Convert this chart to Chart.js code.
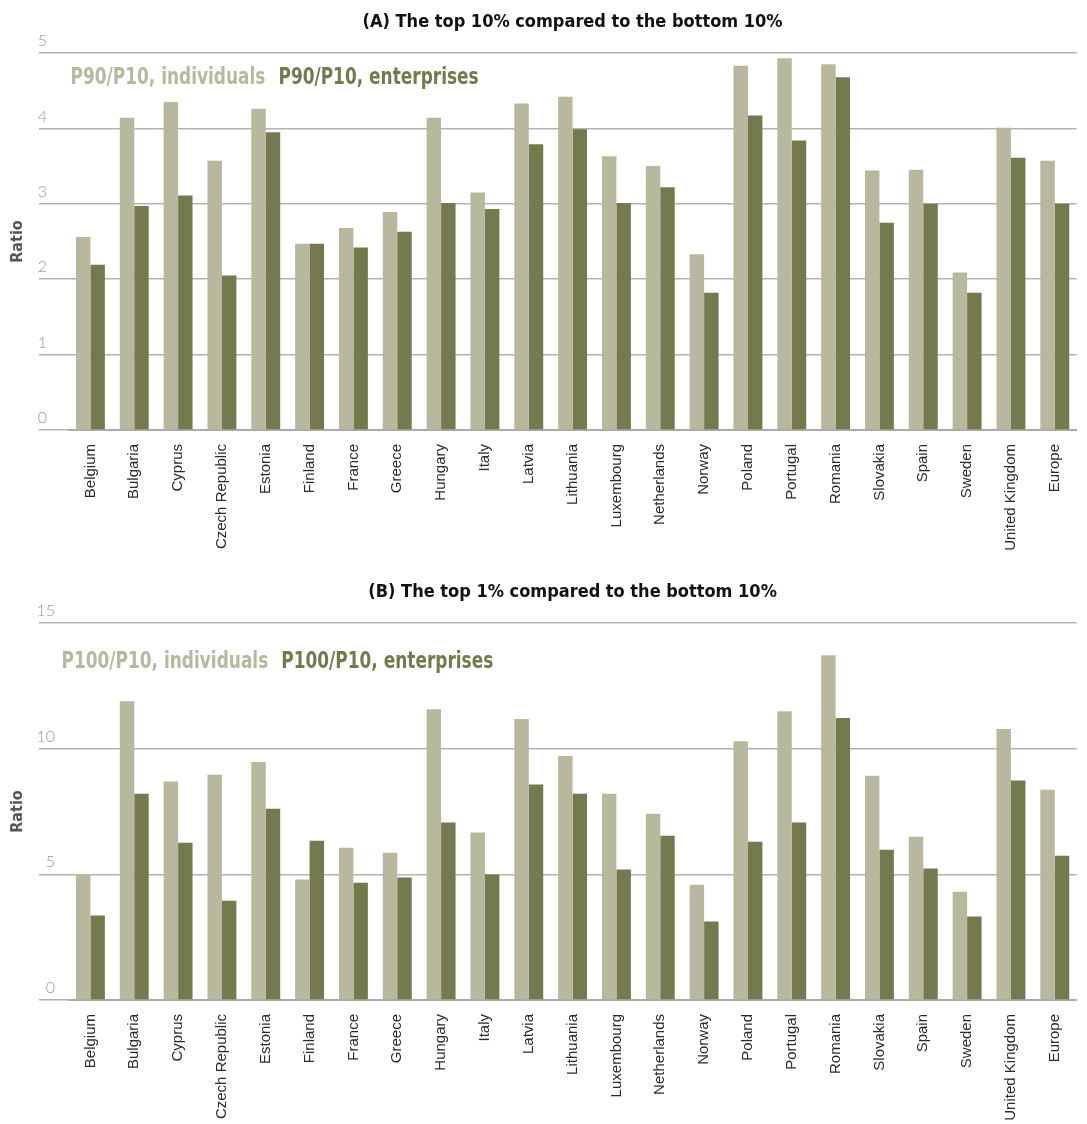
<!DOCTYPE html>
<html>
<head>
<meta charset="utf-8">
<script src="https://cdn.jsdelivr.net/npm/chart.js@4.4.1/dist/chart.umd.min.js"></script>
<style>
  body { margin: 0; background: #fff; overflow: hidden; }
  .wrap { position: absolute; left: 0; width: 1087px; overflow: hidden; }
  #wrapA { top: 0; height: 570px; }
  #wrapB { top: 570px; height: 554px; }
</style>
</head>
<body>
<div class="wrap" id="wrapA"><canvas id="chartA" width="1087" height="570"></canvas></div>
<div class="wrap" id="wrapB"><canvas id="chartB" width="1087" height="570"></canvas></div>
<script>
// data
const countries = ["Belgium", "Bulgaria", "Cyprus", "Czech Republic", "Estonia", "Finland", "France", "Greece", "Hungary", "Italy", "Latvia", "Lithuania", "Luxembourg", "Netherlands", "Norway", "Poland", "Portugal", "Romania", "Slovakia", "Spain", "Sweden", "United Kingdom", "Europe"];

const p90Individuals = [2.56, 4.14, 4.35, 3.57, 4.26, 2.47, 2.68, 2.89, 4.14, 3.15, 4.33, 4.42, 3.63, 3.5, 2.33, 4.83, 4.93, 4.85, 3.44, 3.45, 2.09, 4.01, 3.57];
const p90Enterprises = [2.19, 2.97, 3.11, 2.05, 3.95, 2.47, 2.42, 2.63, 3.01, 2.93, 3.79, 3.99, 3.01, 3.22, 1.82, 4.17, 3.84, 4.68, 2.75, 3.0, 1.82, 3.61, 3.0];

const p100Individuals = [5.0, 11.89, 8.69, 8.96, 9.47, 4.79, 6.06, 5.86, 11.57, 6.66, 11.18, 9.71, 8.21, 7.41, 4.59, 10.3, 11.49, 13.72, 8.92, 6.5, 4.31, 10.78, 8.37];
const p100Enterprises = [3.36, 8.21, 6.26, 3.95, 7.61, 6.34, 4.67, 4.87, 7.06, 4.99, 8.57, 8.21, 5.19, 6.54, 3.12, 6.3, 7.06, 11.22, 5.98, 5.23, 3.32, 8.73, 5.74];

const ticksA = [0, 1, 2, 3, 4, 5];
const ticksB = [0, 5, 10, 15];

const lightColor = "#b8b89e";
const darkColor = "#747a4d";
const narrow = "'Liberation Sans Narrow', 'DejaVu Sans Condensed', sans-serif";

// legend drawn as plain coloured text inside the plot (squeezed a bit, the original font is narrower)
const legendText = {
  id: "legendText",
  afterDraw(chart, args, opts) {
    const ctx = chart.ctx;
    const area = chart.chartArea;
    const sx = 0.82;
    let x = (area.left + opts.dx) / sx;
    ctx.save();
    ctx.scale(sx, 1);
    ctx.font = "bold 23px " + narrow;
    ctx.textBaseline = "middle";
    ctx.textAlign = "left";
    chart.data.datasets.forEach((ds) => {
      ctx.fillStyle = ds.backgroundColor;
      ctx.fillText(ds.label, x, area.top + opts.dy);
      x += ctx.measureText(ds.label).width + 13 / sx;
    });
    ctx.restore();
  },
};

const makeChart = (el, title, names, indiv, enter, ticks, maxY, tickPad, legendPos) => {
  return new Chart(el, {
    type: "bar",
    data: {
      labels: countries,
      datasets: [
        {
          label: names[0],
          data: indiv,
          backgroundColor: lightColor,
          barPercentage: 1,
          categoryPercentage: 0.66,
        },
        {
          label: names[1],
          data: enter,
          backgroundColor: darkColor,
          barPercentage: 1,
          categoryPercentage: 0.66,
        },
      ],
    },
    options: {
      responsive: false,
      animation: false,
      layout: { padding: { right: 5 } },
      plugins: {
        legend: { display: false },
        tooltip: { enabled: false },
        title: {
          display: true,
          text: title,
          fullSize: false,
          color: "#111",
          font: { family: narrow, size: 18, weight: "bold" },
          padding: { top: 12, bottom: 19.4 },
        },
        legendText: legendPos,
      },
      scales: {
        x: {
          grid: { display: false, drawTicks: false },
          border: { display: true, color: "#aaaaaa", width: 2 },
          ticks: {
            autoSkip: false,
            maxRotation: 90,
            minRotation: 90,
            padding: 14,
            color: "#2a2a2a",
            font: { family: "'Liberation Sans', Arial, sans-serif", size: 15 },
          },
          afterFit: (scale) => {
            scale.height = 140;
          },
        },
        y: {
          min: 0,
          max: maxY,
          afterBuildTicks: (scale) => {
            scale.ticks = ticks.map((v) => ({ value: v }));
          },
          grid: {
            color: "#b3b3b3",
            lineWidth: 1.5,
            drawTicks: true,
            tickLength: 29.5,
          },
          border: { display: false },
          ticks: {
            padding: tickPad,
            labelOffset: -12,
            color: "#999999",
            font: { family: "Lato, 'Liberation Sans', sans-serif", size: 16, weight: 300 },
          },
          title: {
            display: true,
            text: "Ratio",
            color: "#555",
            font: { family: narrow, size: 16, weight: "bold" },
            padding: { top: 8, bottom: 0 },
          },
          afterFit: (scale) => {
            scale.width = 68.5;
          },
        },
      },
    },
    plugins: [legendText],
  });
};

makeChart(
  document.getElementById("chartA"),
  "(A) The top 10% compared to the bottom 10%",
  ["P90/P10, individuals", "P90/P10, enterprises"],
  p90Individuals,
  p90Enterprises,
  ticksA,
  5,
  -8,
  { dx: 2, dy: 25 }
);

makeChart(
  document.getElementById("chartB"),
  "(B) The top 1% compared to the bottom 10%",
  ["P100/P10, individuals", "P100/P10, enterprises"],
  p100Individuals,
  p100Enterprises,
  ticksB,
  15,
  -16,
  { dx: -7, dy: 39 }
);
</script>
</body>
</html>
